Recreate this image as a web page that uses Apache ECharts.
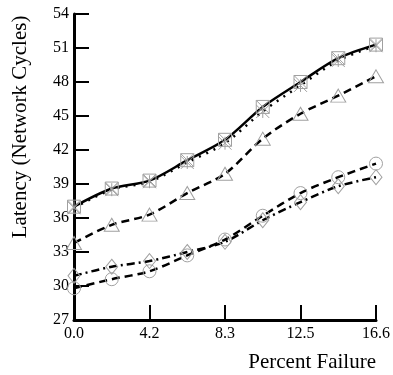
<!DOCTYPE html>
<html>
<head>
<meta charset="utf-8">
<script src="https://cdn.jsdelivr.net/npm/echarts@6/dist/echarts.min.js"></script>
<style>
  html, body { margin: 0; padding: 0; background: #fff; }
  #chart { width: 393px; height: 375px; }
</style>
</head>
<body>
<div id="chart"></div>
<script>
// percent failure at each measured point
const percentFailure = [0.0, 2.075, 4.15, 6.225, 8.3, 10.375, 12.45, 14.525, 16.6];
const xTickLabels = ["0.0", "4.2", "8.3", "12.5", "16.6"];

// latency series (network cycles)
const squareSolid = [37.0, 38.6, 39.3, 41.1, 42.9, 45.8, 48.0, 50.1, 51.3];
const starDotted = [36.9, 38.5, 39.2, 40.9, 42.6, 45.4, 47.7, 49.9, 51.2];
const triangleDashed = [33.8, 35.4, 36.3, 38.2, 39.9, 43.0, 45.2, 46.8, 48.5];
const circleDashed = [29.8, 30.6, 31.3, 32.7, 34.1, 36.2, 38.2, 39.6, 40.8];
const diamondDashDot = [30.9, 31.7, 32.2, 33.0, 33.9, 35.8, 37.4, 38.8, 39.6];

const FONT = "Liberation Serif";
const MARK = "#a0a0a0";

const pairs = (ys) => percentFailure.map((x, i) => [x, ys[i]]);

function lineSeries(name, ys, symbol, size, dash) {
  return {
    name,
    type: "line",
    data: pairs(ys),
    smooth: 0.3,
    symbol,
    symbolSize: size,
    showAllSymbol: true,
    clip: false,
    itemStyle: { color: "rgba(0,0,0,0)", borderColor: MARK, borderWidth: 1 },
    lineStyle: { color: "#000", width: 2.5, type: dash },
    emphasis: { disabled: true },
  };
}

const chart = echarts.init(document.getElementById("chart"), null, { renderer: "canvas" });

chart.setOption({
  animation: false,
  grid: { left: 74, right: 15, top: 14, bottom: 55 },
  xAxis: {
    type: "value",
    min: 0,
    max: 16.6,
    interval: 4.15,
    splitLine: { show: false },
    axisLine: { lineStyle: { color: "#000", width: 3 } },
    axisTick: { inside: true, length: 15, lineStyle: { color: "#000", width: 2 } },
    axisLabel: {
      margin: 6,
      color: "#000",
      fontFamily: FONT,
      fontSize: 16,
      formatter: (v) => xTickLabels[Math.round(v / 4.15)],
    },
    name: "Percent Failure",
    nameLocation: "end",
    nameGap: 0,
    nameTextStyle: {
      color: "#000",
      fontFamily: FONT,
      fontSize: 21,
      align: "right",
      verticalAlign: "top",
      padding: [32, 0, 0, 0],
    },
  },
  yAxis: {
    type: "value",
    min: 27,
    max: 54,
    interval: 3,
    splitLine: { show: false },
    axisLine: { show: true, lineStyle: { color: "#000", width: 3 } },
    axisTick: { show: true, inside: true, length: 15, lineStyle: { color: "#000", width: 2 } },
    axisLabel: { margin: 5, color: "#000", fontFamily: FONT, fontSize: 16 },
  },
  graphic: [
    {
      type: "text",
      x: 20,
      y: 127,
      rotation: Math.PI / 2,
      style: {
        text: "Latency (Network Cycles)",
        fill: "#000",
        font: "21px 'Liberation Serif'",
        align: "center",
        verticalAlign: "middle",
      },
    },
  ],
  series: [
    lineSeries("square", squareSolid, "path://M0,0L10,0L10,10L0,10ZM0,0L10,10M10,0L0,10", 13, "solid"),
    lineSeries("star", starDotted, "path://M0,0L10,10M10,0L0,10M5,0L5,10", 13, [2, 6]),
    lineSeries("triangle", triangleDashed, "triangle", [15, 13], [8, 5]),
    lineSeries("circle", circleDashed, "circle", 13, [8, 5]),
    lineSeries("diamond", diamondDashDot, "diamond", [12, 15], [8, 4, 2, 4]),
  ],
});
</script>
</body>
</html>
